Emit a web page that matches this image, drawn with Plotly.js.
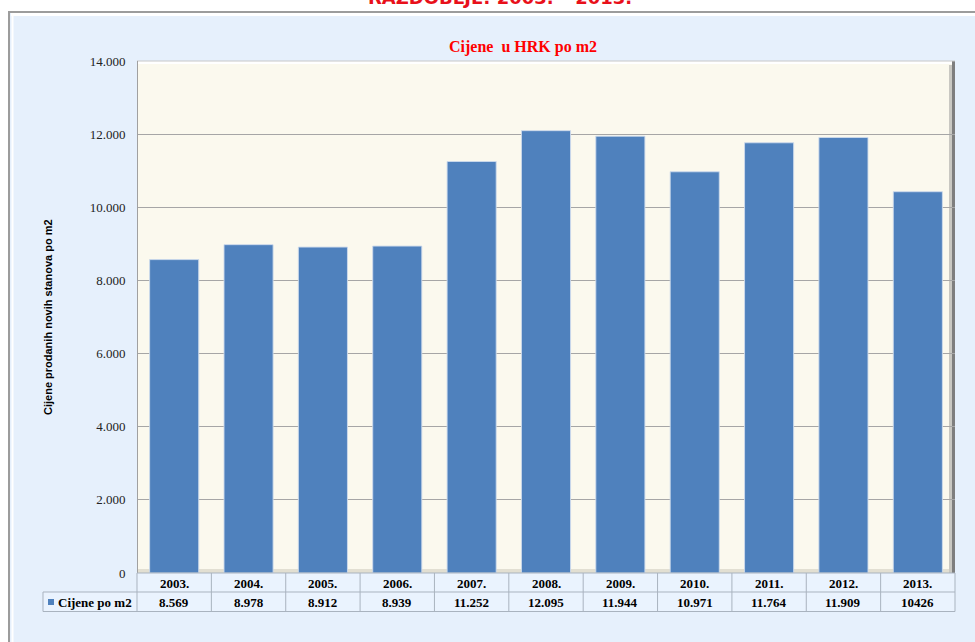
<!DOCTYPE html>
<html>
<head>
<meta charset="utf-8">
<script src="https://cdn.plot.ly/plotly-3.0.1.min.js"></script>
<style>html,body{margin:0;padding:0;background:#fff;}#chart{width:975px;height:642px;}</style>
</head>
<body>
<div id="chart"></div>
<script>
// ---- data ----
const years = ['2003.', '2004.', '2005.', '2006.', '2007.', '2008.', '2009.', '2010.', '2011.', '2012.', '2013.'];
const prices = [8569, 8978, 8912, 8939, 11252, 12095, 11944, 10971, 11764, 11909, 10426];
const priceLabels = ['8.569', '8.978', '8.912', '8.939', '11.252', '12.095', '11.944', '10.971', '11.764', '11.909', '10426'];
const yTickVals = [0, 2000, 4000, 6000, 8000, 10000, 12000, 14000];
const yTickText = ['0', '2.000', '4.000', '6.000', '8.000', '10.000', '12.000', '14.000'];
const seriesName = 'Cijene po m2';
const chartTitle = 'Cijene  u HRK po m2';
const yTitle = 'Cijene prodanih novih stanova po m2';
const topTitle = 'RAZDOBLJE: 2003. \u2013 2013.';

// ---- layout geometry (pixels of the 975x642 page) ----
const W = 975, H = 642;
const L = 137, R = 955, T = 61, B = 573;
const pw = R - L, ph = B - T;
const px = p => (p - L) / pw;      // page x -> paper x
const py = p => (B - p) / ph;      // page y -> paper y

const serif = 'Liberation Serif, Times New Roman, serif';
const gridCol = '#A6A6A6';
const tableCol = '#A9B3BF';
const cellFont = {family: serif, size: 13, color: '#000', weight: 'bold'};

const shapes = [];
// light-blue panel with grey frame
shapes.push({type: 'rect', xref: 'paper', yref: 'paper', layer: 'below',
  x0: px(9), x1: px(990), y0: py(12), y1: py(660),
  fillcolor: '#E6F0FC', line: {color: '#9C9C9C', width: 2}});
shapes.push({type: 'line', xref: 'paper', yref: 'paper', layer: 'below',
  x0: px(11), x1: px(990), y0: py(14.5), y1: py(14.5), line: {color: '#FFFFFF', width: 3}});
shapes.push({type: 'line', xref: 'paper', yref: 'paper', layer: 'below',
  x0: px(12.5), x1: px(12.5), y0: py(14), y1: py(660), line: {color: '#FFFFFF', width: 2}});
// table cells (slightly lighter blue)
shapes.push({type: 'rect', xref: 'paper', yref: 'paper', layer: 'below',
  x0: 0, x1: 1, y0: py(612), y1: py(B), fillcolor: '#EAF3FE', line: {width: 0}});
shapes.push({type: 'rect', xref: 'paper', yref: 'paper', layer: 'below',
  x0: px(43), x1: 0, y0: py(612), y1: py(592), fillcolor: '#EAF3FE', line: {width: 0}});
// plot area (cream) with 3-D edges
shapes.push({type: 'rect', xref: 'paper', yref: 'paper', layer: 'below',
  x0: 0, x1: 1, y0: 0, y1: 1, fillcolor: '#FBF9EE', line: {width: 0}});
shapes.push({type: 'rect', xref: 'paper', yref: 'paper', layer: 'below',
  x0: px(L), x1: px(R), y0: py(B), y1: py(B - 4), fillcolor: '#E2DFD2', line: {width: 0}});
shapes.push({type: 'rect', xref: 'paper', yref: 'paper', layer: 'below',
  x0: px(R - 6), x1: px(R - 3), y0: py(B), y1: py(T + 4), fillcolor: '#C9C8C2', line: {width: 0}});
shapes.push({type: 'rect', xref: 'paper', yref: 'paper', layer: 'below',
  x0: px(R - 3), x1: px(R), y0: py(B), y1: py(T), fillcolor: '#7E7E7E', line: {width: 0}});
shapes.push({type: 'line', xref: 'paper', yref: 'paper', layer: 'below',
  x0: 0, x1: px(R - 3), y0: py(T + 1.5), y1: py(T + 1.5), line: {color: '#FFFFFF', width: 3}});
shapes.push({type: 'line', xref: 'paper', yref: 'paper', layer: 'below',
  x0: 0, x1: 1, y0: py(T), y1: py(T), line: {color: '#C8C8C8', width: 1}});
shapes.push({type: 'line', xref: 'paper', yref: 'paper', layer: 'above',
  x0: px(L + 0.5), x1: px(L + 0.5), y0: py(B), y1: py(T), line: {color: '#A0A0A0', width: 1}});
// data table grid
const rowMid = py(592), rowBot = py(611.5);
[py(B), rowMid, rowBot].forEach((yy, i) => {
  shapes.push({type: 'line', xref: 'paper', yref: 'paper', layer: 'above',
    x0: i === 0 ? 0 : px(43), x1: 1, y0: yy, y1: yy, line: {color: tableCol, width: 1}});
});
shapes.push({type: 'line', xref: 'paper', yref: 'paper', layer: 'above',
  x0: px(43), x1: px(43), y0: rowMid, y1: rowBot, line: {color: tableCol, width: 1}});
shapes.push({type: 'line', xref: 'paper', yref: 'paper', layer: 'above',
  x0: 0, x1: 0, y0: 0, y1: rowBot, line: {color: tableCol, width: 1}});
shapes.push({type: 'line', xref: 'paper', yref: 'paper', layer: 'above',
  x0: 1, x1: 1, y0: 0, y1: rowBot, line: {color: tableCol, width: 1}});
for (let i = 0; i < years.length - 1; i++) {
  shapes.push({type: 'line', xref: 'x', yref: 'paper', layer: 'above',
    x0: i + 0.5, x1: i + 0.5, y0: 0, y1: rowBot, line: {color: tableCol, width: 1}});
}
// legend key square
shapes.push({type: 'rect', xref: 'paper', yref: 'paper', layer: 'above',
  x0: px(48), x1: px(54), y0: py(605), y1: py(599), fillcolor: '#4F81BD', line: {width: 0}});

const annotations = [];
// data table: year row and value row
years.forEach((yr, i) => {
  annotations.push({xref: 'x', yref: 'paper', x: i, y: py(583), yanchor: 'middle',
    text: yr, showarrow: false, font: cellFont});
  annotations.push({xref: 'x', yref: 'paper', x: i, y: py(602), yanchor: 'middle',
    text: priceLabels[i], showarrow: false, font: cellFont});
});
annotations.push({xref: 'paper', yref: 'paper', x: px(56), y: py(602), xanchor: 'left', yanchor: 'middle',
  text: seriesName, showarrow: false, font: cellFont});
// y axis title
annotations.push({xref: 'paper', yref: 'paper', x: px(48), y: py(317), xanchor: 'center', yanchor: 'middle',
  textangle: -90, text: yTitle, showarrow: false,
  font: {family: 'Liberation Sans Narrow, Arial Narrow, Liberation Sans, sans-serif', size: 11, color: '#000', weight: 'bold'}});
// cut-off page heading at the very top
annotations.push({xref: 'paper', yref: 'paper', x: px(500), y: py(10), xanchor: 'center', yanchor: 'bottom',
  text: topTitle, showarrow: false,
  font: {family: 'DejaVu Sans, Verdana, sans-serif', size: 18, color: '#E8101A', weight: 'bold'}});

const trace = {
  type: 'bar', x: years, y: prices, name: seriesName,
  marker: {color: '#4F81BD', line: {color: 'rgba(205,218,236,0.9)', width: 1}},
  width: 0.66, showlegend: false, hoverinfo: 'x+y'
};

const layout = {
  width: W, height: H,
  margin: {l: L, r: W - R, t: T, b: H - B, pad: 0},
  paper_bgcolor: '#FFFFFF', plot_bgcolor: '#FBF9EE',
  showlegend: false,
  title: {text: chartTitle, xref: 'paper', x: px(523), xanchor: 'center',
    yref: 'container', y: 1 - 46.5 / H, yanchor: 'middle',
    font: {family: serif, size: 16, color: '#FF0000', weight: 'bold'}},
  xaxis: {type: 'category', range: [-0.5, years.length - 0.5], showgrid: false, zeroline: false,
    showline: false, showticklabels: false, ticks: '', fixedrange: true},
  yaxis: {range: [0, 14000], tickvals: yTickVals, ticktext: yTickText, showgrid: true,
    gridcolor: gridCol, gridwidth: 1, zeroline: false, showline: false,
    ticks: 'outside', ticklen: 8, tickcolor: 'rgba(0,0,0,0)',
    tickfont: {family: serif, size: 13, color: '#222'}, fixedrange: true},
  shapes: shapes, annotations: annotations
};

Plotly.newPlot('chart', [trace], layout, {displayModeBar: false, staticPlot: true});
</script>
</body>
</html>
